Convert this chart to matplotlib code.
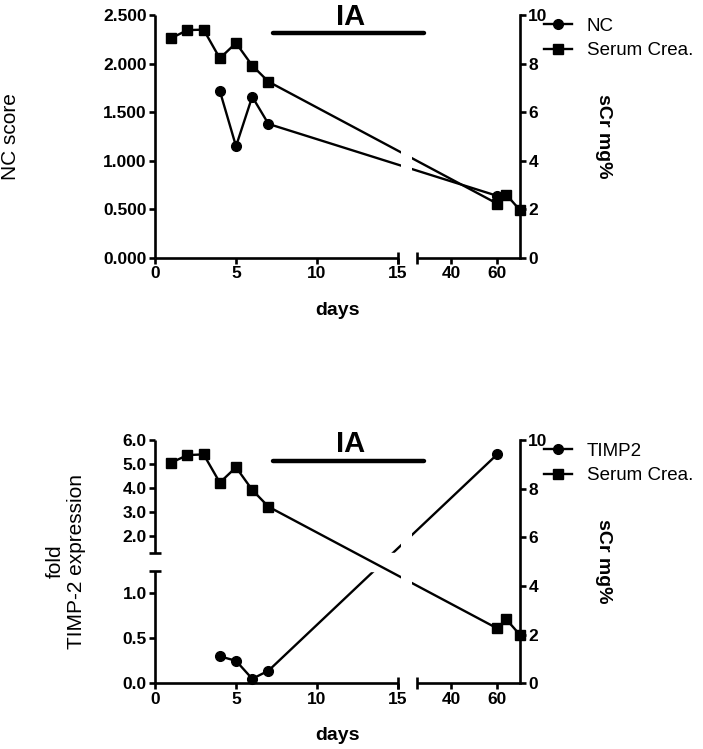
import numpy as np
import matplotlib
matplotlib.use("Agg")
import matplotlib.pyplot as plt
from matplotlib.lines import Line2D

plt.rcParams["font.family"] = ["Liberation Sans", "DejaVu Sans"]

# values
SCR_DAYS = [1, 2, 3, 4, 5, 6, 7, 60, 64, 70]
SCR_TOP = [9.05, 9.38, 9.40, 8.22, 8.85, 7.92, 7.26, 2.24, 2.61, 1.97]
SCR_BOTTOM = [9.07, 9.38, 9.41, 8.25, 8.88, 7.95, 7.26, 2.26, 2.63, 1.99]

MARKER_DAYS = [4, 5, 6, 7, 60]
NC_SCORE = [1.72, 1.15, 1.66, 1.38, 0.64]
TIMP2_FOLD = [0.30, 0.25, 0.05, 0.14, 5.40]

X_TICKS = [0, 5, 10, 15, 40, 60]
NC_TICKS = [0.0, 0.5, 1.0, 1.5, 2.0, 2.5]
TIMP_TICKS = [0.0, 0.5, 1.0, 2.0, 3.0, 4.0, 5.0, 6.0]
SCR_TICKS = [0, 2, 4, 6, 8, 10]

IA_START, IA_END = 7.3, 28.0

LW = 1.7
MS = 7
SPINE_W = 1.9
TICK_FS = 12.5

# broken x axis: 0-15 full width, 15-25 is the gap, 25-70 squeezed
GAP_SLOPE = 0.117
TAIL_SLOPE = 0.1413
G0 = 15 + 10 * GAP_SLOPE


def x_fwd(x):
    x = np.asarray(x, dtype=float)
    return np.where(x <= 15, x,
                    np.where(x <= 25, 15 + (x - 15) * GAP_SLOPE, G0 + (x - 25) * TAIL_SLOPE))


def x_inv(u):
    u = np.asarray(u, dtype=float)
    return np.where(u <= 15, u,
                    np.where(u <= G0, 15 + (u - 15) / GAP_SLOPE, 25 + (u - G0) / TAIL_SLOPE))


# broken left axis of the TIMP-2 panel: 0-1.25 stretched, 1.3-6 compressed
def y_fwd(y):
    y = np.asarray(y, dtype=float)
    return np.where(y <= 1.25, y * 90,
                    np.where(y <= 1.3, 112.5 + (y - 1.25) * 360, 130.5 + (y - 1.3) * 24))


def y_inv(v):
    v = np.asarray(v, dtype=float)
    return np.where(v <= 112.5, v / 90,
                    np.where(v <= 130.5, 1.25 + (v - 112.5) / 360, 1.3 + (v - 130.5) / 24))


def draw_panel(fig, rect, left_vals, left_name, left_ticks, left_fmt, ylim,
               ylabel, ylabel_x, scr_vals, ia_y, broken_left=False):
    ax = fig.add_axes(rect)
    ax.set_xscale("function", functions=(x_fwd, x_inv))
    if broken_left:
        ax.set_yscale("function", functions=(y_fwd, y_inv))
    ax2 = ax.twinx()

    ax.plot(MARKER_DAYS, left_vals, color="black", lw=LW, marker="o", ms=MS,
            clip_on=False, zorder=3)
    ax2.plot(SCR_DAYS, scr_vals, color="black", lw=LW, marker="s", ms=MS,
             clip_on=False, zorder=3)

    ax.set_xlim(0, 70)
    ax.set_ylim(*ylim)
    ax2.set_ylim(0, 10)

    ax.set_xticks(X_TICKS, labels=[str(t) for t in X_TICKS], fontweight="bold",
                  fontsize=TICK_FS)
    ax.set_yticks(left_ticks, labels=[left_fmt.format(t) for t in left_ticks],
                  fontweight="bold", fontsize=TICK_FS)
    ax2.set_yticks(SCR_TICKS, labels=[str(t) for t in SCR_TICKS],
                   fontweight="bold", fontsize=TICK_FS)
    ax.minorticks_off()
    for a in (ax, ax2):
        a.tick_params(direction="out", length=4.5, width=SPINE_W, pad=1.5)
        for side in ("top", "bottom", "left", "right"):
            a.spines[side].set_visible(False)
    ax2.spines["right"].set_visible(True)
    ax2.spines["right"].set_linewidth(SPINE_W)

    # hand-drawn broken bottom axis
    xt = ax.get_xaxis_transform()
    for seg in ((0, 15), (25, 70)):
        ax2.plot(seg, (0, 0), transform=xt, color="black", lw=SPINE_W,
                 clip_on=False, solid_capstyle="butt", zorder=6)
    ax2.plot((15, 25), (0, 0), transform=xt, ls="none", marker="|", ms=9,
             mew=SPINE_W, color="black", clip_on=False, zorder=6)

    # left axis, broken in the lower panel
    yt = ax.get_yaxis_transform()
    if broken_left:
        segs = ((ylim[0], 1.25), (1.3, ylim[1]))
        ax.plot((0, 0), (1.25, 1.3), transform=yt, ls="none", marker="_", ms=9,
                mew=SPINE_W, color="black", clip_on=False, zorder=6)
        ax.axhspan(1.25, 1.3, color="white", zorder=5)
    else:
        segs = ((ylim[0], ylim[1]),)
    for seg in segs:
        ax.plot((0, 0), seg, transform=yt, color="black", lw=SPINE_W,
                clip_on=False, solid_capstyle="butt", zorder=6)

    # gap in the data lines at the x-axis break
    ax2.axvspan(16.8, 22.6, ymin=0, ymax=0.85, color="white", lw=0, zorder=5)

    # IA period bar
    ax2.plot((IA_START, IA_END), (ia_y, ia_y), color="black", lw=3.2,
             solid_capstyle="round", zorder=7)
    ax2.text(12.1, ia_y + 0.35, "IA", ha="center", va="baseline",
             fontsize=21, fontweight="bold", zorder=7)

    ax.text(ylabel_x, 0.5, ylabel, transform=ax.transAxes, rotation=90,
            ha="center", va="center", fontsize=15, linespacing=1.15)
    ax2.text(1.23, 0.5, "sCr mg%", transform=ax2.transAxes, rotation=270,
             ha="center", va="center", fontsize=14, fontweight="bold")
    ax.text(0.5, -0.214, "days", transform=ax.transAxes, ha="center",
            va="center", fontsize=14, fontweight="bold")

    handles = [
        Line2D([], [], color="black", lw=LW, marker="o", ms=MS, label=left_name),
        Line2D([], [], color="black", lw=LW, marker="s", ms=MS, label="Serum Crea."),
    ]
    ax2.legend(handles=handles, loc="upper left", bbox_to_anchor=(1.065, 0.99),
               frameon=False, fontsize=13.5, handlelength=1.5, handletextpad=0.8,
               labelspacing=0.4, borderaxespad=0, borderpad=0)
    return ax, ax2


fig = plt.figure(figsize=(7.03, 7.49), dpi=100)

draw_panel(fig, [0.2205, 0.6555, 0.5192, 0.3244], NC_SCORE, "NC", NC_TICKS,
           "{:.3f}", (0, 2.5), "NC score", -0.397, SCR_TOP, 9.26)
draw_panel(fig, [0.2205, 0.0877, 0.5192, 0.3248], TIMP2_FOLD, "TIMP2", TIMP_TICKS,
           "{:.1f}", (0, 6.0), "fold\nTIMP-2 expression", -0.244, SCR_BOTTOM, 9.15,
           broken_left=True)

fig.savefig("out.png", dpi=100)
